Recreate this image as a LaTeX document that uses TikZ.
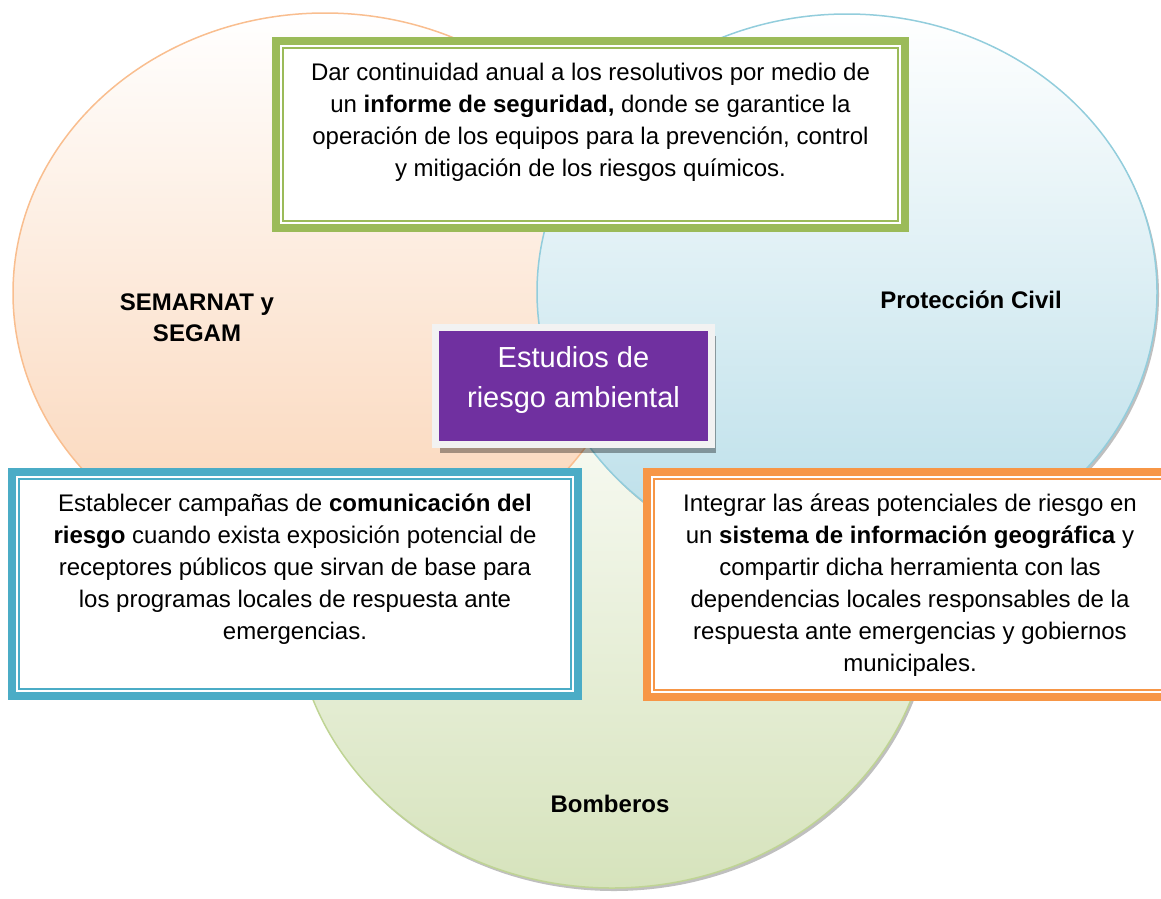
\documentclass[tikz,border=0pt]{standalone}
\usepackage{fontspec}
\setmainfont{Liberation Sans}
\usetikzlibrary{shadows}
\definecolor{semarnat}{HTML}{F9BE8F}
\definecolor{semarnatfill}{HTML}{FAD3B4}
\definecolor{proteccion}{HTML}{92CDDC}
\definecolor{proteccionfill}{HTML}{B7DDE8}
\definecolor{bomberos}{HTML}{BFD494}
\definecolor{bomberosfill}{HTML}{D6E3BC}
\definecolor{verde}{HTML}{9BBB59}
\definecolor{aqua}{HTML}{4BACC6}
\definecolor{naranja}{HTML}{F79646}
\definecolor{morado}{HTML}{7030A0}
\tikzset{
  venn/.style={x=1pt, y=-1pt},
  area/.style={draw=#1, line width=1.5pt, top color=white, bottom color=#1fill},
  shade below/.style={drop shadow={shadow xshift=2pt, shadow yshift=-3pt, fill=black, opacity=.25}},
  frame/.style={rectangle, draw=#1, line width=8pt, fill=white, inner sep=0pt, outer sep=0pt},
  rule/.style={draw=#1, line width=2pt},
  body/.style={align=center, font=\fontsize{24}{32}\selectfont},
  title/.style={align=center, font=\bfseries\fontsize{24}{31}\selectfont},
  estudio/.style={rectangle, fill=morado, draw=black!5, line width=7pt, inner sep=0pt, outer sep=0pt,
    minimum width=276, minimum height=117,
    drop shadow={shadow xshift=4pt, shadow yshift=-8pt, fill=black, opacity=.35}}
}

\begin{document}
\begin{tikzpicture}[venn]
  \useasboundingbox (0,0) rectangle (1161,898);

  \path[area=bomberos, shade below] (612,602) ellipse [x radius=318pt, y radius=286pt];
  \path[area=semarnat] (325,293) ellipse [x radius=312pt, y radius=280pt];
  \path[area=proteccion, shade below] (847,292) ellipse [x radius=310pt, y radius=278pt];

  \node[title] (sem) at (197,318) {SEMARNAT y\\SEGAM};
  \node[title] (pc)  at (971,300) {Protección Civil};
  \node[title] (bom) at (610,804) {Bomberos};

  \node[frame=verde, minimum width=629, minimum height=187] (gbox) at (590.5,134.5) {};
  \draw[rule=verde] ([shift={(7,7)}]gbox.north west) rectangle ([shift={(-7,-7)}]gbox.south east);
  \node[body] (gtext) at (590.5,122)
    {Dar continuidad anual a los resolutivos por medio de\\
     un \textbf{informe de seguridad,} donde se garantice la\\
     operación de los equipos para la prevención, control\\
     y mitigación de los riesgos químicos.};

  \node[estudio] (est) at (573.5,386) {};
  \node[align=center, text=white, font=\fontsize{29}{40}\selectfont] (esttext) at (573.5,380)
    {Estudios de\\riesgo ambiental};

  \node[frame=aqua, minimum width=566, minimum height=224] (bbox) at (295,584) {};
  \draw[rule=aqua] ([shift={(7,7)}]bbox.north west) rectangle ([shift={(-7,-7)}]bbox.south east);
  \node[body] (btext) at (295,569)
    {Establecer campañas de \textbf{comunicación del}\\
     \textbf{riesgo} cuando exista exposición potencial de\\
     receptores públicos que sirvan de base para\\
     los programas locales de respuesta ante\\
     emergencias.};

  \node[frame=naranja, minimum width=525, minimum height=225] (obox) at (909.5,584.5) {};
  \draw[rule=naranja] ([shift={(7,7)}]obox.north west) rectangle ([shift={(-7,-7)}]obox.south east);
  \node[body] (otext) at (910,585)
    {Integrar las áreas potenciales de riesgo en\\
     un \textbf{sistema de información geográfica} y\\
     compartir dicha herramienta con las\\
     dependencias locales responsables de la\\
     respuesta ante emergencias y gobiernos\\
     municipales.};
\end{tikzpicture}
\end{document}
